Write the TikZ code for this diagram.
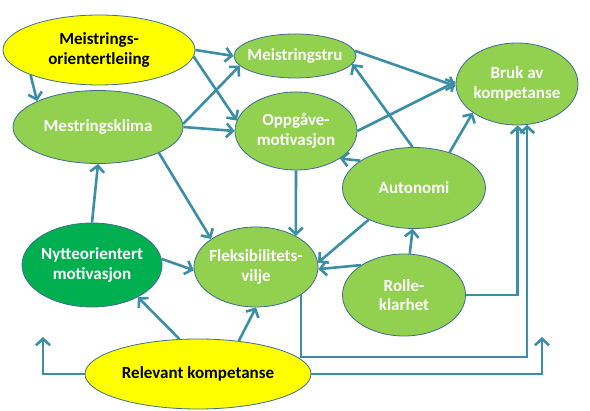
\documentclass[tikz,border=0pt]{standalone}
\usepackage{fontspec}
\setmainfont{Carlito}
\usetikzlibrary{shapes.geometric,arrows.meta}
\definecolor{lysgronn}{HTML}{92D050}
\definecolor{morkgronn}{HTML}{00B050}
\definecolor{gul}{HTML}{FFFF00}
\definecolor{pilfarge}{HTML}{3A8EA5}
\definecolor{kant}{HTML}{3B6E8F}
\tikzset{
  boble/.style={ellipse, draw=kant, line width=0.8pt, fill=lysgronn, text=white,
    font=\bfseries\fontsize{17}{19.5}\selectfont, align=center, inner sep=-5pt},
  gulboble/.style={boble, fill=gul, text=black},
  pil/.style={draw=pilfarge, line width=2.6pt, -{Straight Barb[length=6.5pt,width=14pt]}}
}
\begin{document}
\begin{tikzpicture}[x=1pt,y=-1pt]
      \useasboundingbox (0,0) rectangle (590,411);
      \draw
        (99,50) node[gulboble, minimum width=192pt, minimum height=70pt] (mol) {Meistrings-\\orientertleiing}
        (98,127) node[boble, minimum width=170pt, minimum height=73pt] (klima) {Mestringsklima}
        (295,56) node[boble, minimum width=122pt, minimum height=44pt] (tru) {Meistringstru}
        (296,131) node[boble, minimum width=122pt, minimum height=78pt] (oppg) {Oppgåve-\\motivasjon}
        (517,84) node[boble, minimum width=122pt, minimum height=82pt] (bruk) {Bruk av\\kompetanse}
        (414,188) node[boble, minimum width=143pt, minimum height=81pt] (auto) {Autonomi}
        (92,265) node[boble, fill=morkgronn, minimum width=140pt, minimum height=84pt] (nytte) {Nytteorientert\\motivasjon}
        (256,267) node[boble, minimum width=124pt, minimum height=80pt] (fleks) {Fleksibilitets-\\vilje}
        (404,295) node[boble, minimum width=123pt, minimum height=82pt] (rolle) {Rolle-\\klarhet}
        (198,374) node[gulboble, minimum width=226pt, minimum height=70pt] (relev) {Relevant kompetanse};
      \coordinate (venstre) at (43,337);
      \coordinate (hoyre) at (542,337);
      \begin{scope}[pil]
        \draw (mol.200) to (klima.157);
        \draw (mol.0) to (tru.180);
        \draw (mol.356) to (oppg.170);
        \draw (klima.2) to (tru.190);
        \draw (klima.0) to (oppg.180);
        \draw (klima.337) to (fleks.148);
        \draw (nytte.90) to (klima.270);
        \draw (nytte.5) to (fleks.183);
        \draw (oppg.270) to (fleks.38);
        \draw (oppg.0) to (bruk.178);
        \draw (tru.5) to (bruk.182);
        \draw (auto.92) to (tru.352);
        \draw (auto.153) to (oppg.328);
        \draw (auto.45) to (bruk.213);
        \draw (auto.215) to (fleks.4);
        \draw (rolle.145) to (fleks.358);
        \draw (rolle.82) to (auto.268);
        \draw (rolle.0) -| (bruk.271);
        \draw (fleks.328) -- ++(0,62) -| (bruk.284);
        \draw (relev.118) to (nytte.325);
        \draw (relev.39) to (fleks.270);
        \draw (relev.180) -| (venstre);
        \draw (relev.0) -| (hoyre);
      \end{scope}
    \end{tikzpicture}
\end{document}
